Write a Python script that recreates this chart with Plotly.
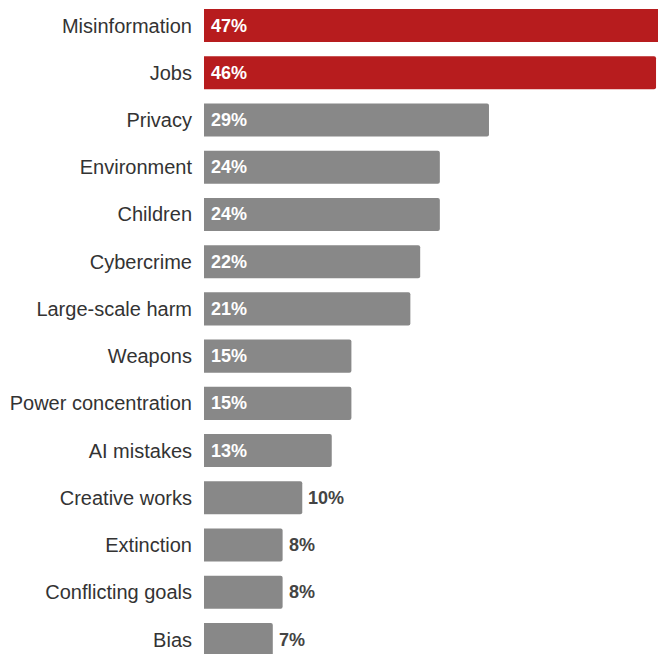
import plotly.graph_objects as go

categories = ["Misinformation", "Jobs", "Privacy", "Environment", "Children",
              "Cybercrime", "Large-scale harm", "Weapons", "Power concentration",
              "AI mistakes", "Creative works", "Extinction", "Conflicting goals", "Bias"]
shares = [47, 46, 29, 24, 24, 22, 21, 15, 15, 13, 10, 8, 8, 7]
highlighted = ["Misinformation", "Jobs"]

RED = "#B71C1E"
GREY = "#888888"
colors = [RED if c in highlighted else GREY for c in categories]

fig = go.Figure(go.Bar(
    x=shares, y=categories, orientation="h",
    marker=dict(color=colors, cornerradius=2, line=dict(width=0)),
    hoverinfo="skip",
))

# Value labels: inside (white) for wide bars, outside (dark) for short ones
annotations = []
for cat, v in zip(categories, shares):
    inside = v >= 12
    annotations.append(dict(
        x=0 if inside else v, y=cat, xref="x", yref="y",
        text=f"<b>{v}%</b>", showarrow=False,
        xanchor="left", yanchor="middle",
        xshift=5 if inside else 4,
        font=dict(family="Liberation Sans, Arial, sans-serif", size=18,
                  color="#ffffff" if inside else "#444444"),
    ))

fig.update_layout(
    width=658, height=654,
    margin=dict(l=204, r=0, t=0, b=0),
    paper_bgcolor="white", plot_bgcolor="white",
    bargap=0.30,
    showlegend=False,
    annotations=annotations,
    font=dict(family="Liberation Sans, Arial, sans-serif"),
    xaxis=dict(range=[0, 46.2], visible=False, fixedrange=True),
    yaxis=dict(
        type="category", categoryorder="array", categoryarray=categories,
        range=[13.307, -0.540],
        showgrid=False, zeroline=False, showline=False,
        ticks="outside", ticklen=7, tickcolor="rgba(0,0,0,0)",
        tickfont=dict(size=20, color="#333333",
                      family="Liberation Sans, Arial, sans-serif"),
        fixedrange=True,
    ),
)

fig.write_html("out.html", config={"displayModeBar": False})
